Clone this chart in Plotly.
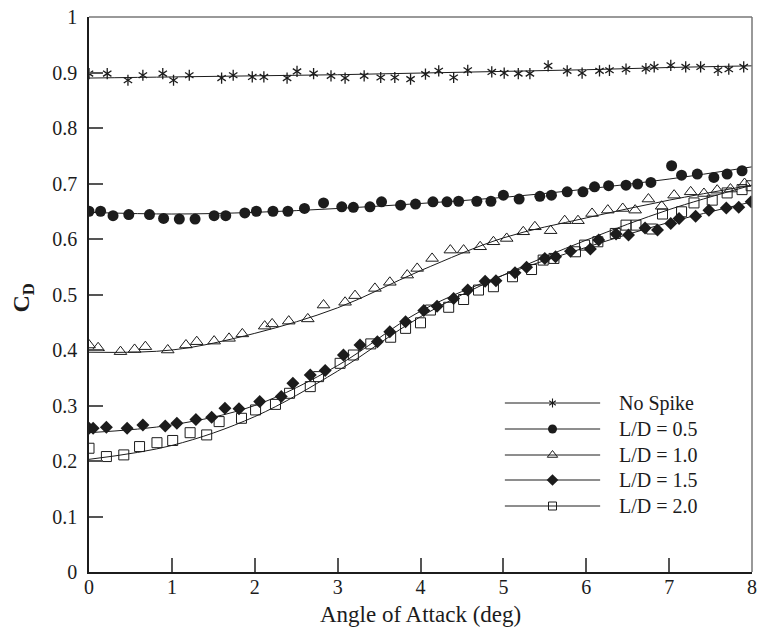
import plotly.graph_objects as go

# ---------------- data ----------------
ns_x = [0.00, 0.22, 0.47, 0.65, 0.89, 1.02, 1.21, 1.60, 1.74, 1.97, 2.11, 2.39, 2.51, 2.71,
        2.92, 3.09, 3.32, 3.52, 3.69, 3.88, 4.06, 4.22, 4.40, 4.57, 4.86, 5.01, 5.18, 5.32,
        5.54, 5.77, 5.95, 6.16, 6.28, 6.48, 6.72, 6.82, 7.02, 7.20, 7.38, 7.59, 7.72, 7.90]
ns_y = [0.898, 0.898, 0.886, 0.895, 0.898, 0.886, 0.895, 0.890, 0.895, 0.892, 0.892, 0.890, 0.902, 0.898,
        0.894, 0.890, 0.894, 0.891, 0.891, 0.888, 0.897, 0.903, 0.891, 0.904, 0.901, 0.899, 0.898, 0.898,
        0.912, 0.903, 0.899, 0.903, 0.904, 0.906, 0.907, 0.910, 0.913, 0.910, 0.910, 0.904, 0.906, 0.910]

ld05_x = [0.00, 0.14, 0.29, 0.48, 0.73, 0.90, 1.09, 1.28, 1.51, 1.65, 1.88, 2.02, 2.22, 2.40, 2.60,
          2.83, 3.05, 3.19, 3.39, 3.53, 3.76, 3.94, 4.15, 4.32, 4.46, 4.68, 4.85, 5.00, 5.19, 5.44,
          5.58, 5.77, 5.96, 6.10, 6.27, 6.48, 6.62, 6.78, 7.03, 7.15, 7.34, 7.54, 7.70, 7.88]
ld05_y = [0.650, 0.650, 0.642, 0.644, 0.644, 0.637, 0.636, 0.636, 0.642, 0.642, 0.647, 0.650, 0.650, 0.650, 0.655,
          0.665, 0.658, 0.657, 0.658, 0.667, 0.661, 0.663, 0.667, 0.667, 0.668, 0.668, 0.668, 0.679, 0.672, 0.677,
          0.679, 0.685, 0.685, 0.694, 0.696, 0.697, 0.699, 0.702, 0.732, 0.715, 0.717, 0.711, 0.717, 0.723]

ld10_x = [0.00, 0.11, 0.38, 0.55, 0.68, 0.95, 1.17, 1.30, 1.51, 1.69, 1.85, 2.12, 2.21, 2.41, 2.64,
          2.83, 3.09, 3.21, 3.45, 3.63, 3.84, 3.96, 4.14, 4.36, 4.52, 4.72, 4.88, 5.04, 5.24, 5.38,
          5.57, 5.74, 5.90, 6.07, 6.26, 6.44, 6.59, 6.75, 6.91, 7.06, 7.26, 7.42, 7.58, 7.74, 7.91]
ld10_y = [0.409, 0.404, 0.397, 0.401, 0.406, 0.400, 0.409, 0.415, 0.416, 0.421, 0.429, 0.443, 0.447, 0.452, 0.456,
          0.481, 0.486, 0.498, 0.511, 0.522, 0.535, 0.547, 0.565, 0.580, 0.580, 0.586, 0.595, 0.601, 0.613, 0.622,
          0.615, 0.633, 0.633, 0.646, 0.652, 0.655, 0.652, 0.672, 0.659, 0.679, 0.685, 0.682, 0.688, 0.690, 0.700]

ld15_x = [0.00, 0.05, 0.21, 0.46, 0.65, 0.92, 1.06, 1.29, 1.48, 1.64, 1.81, 2.06, 2.32, 2.46, 2.67,
          2.85, 3.07, 3.27, 3.48, 3.63, 3.82, 4.04, 4.20, 4.40, 4.57, 4.78, 4.91, 5.14, 5.28, 5.50,
          5.63, 5.81, 6.05, 6.15, 6.36, 6.51, 6.71, 6.86, 7.02, 7.12, 7.32, 7.48, 7.69, 7.84, 7.99]
ld15_y = [0.259, 0.259, 0.261, 0.259, 0.265, 0.263, 0.268, 0.275, 0.279, 0.295, 0.294, 0.307, 0.316, 0.340, 0.355,
          0.363, 0.391, 0.409, 0.415, 0.433, 0.451, 0.471, 0.479, 0.493, 0.508, 0.524, 0.525, 0.539, 0.549, 0.565,
          0.568, 0.578, 0.582, 0.598, 0.609, 0.607, 0.620, 0.616, 0.628, 0.637, 0.641, 0.652, 0.656, 0.657, 0.667]

ld20_x = [0.00, 0.21, 0.42, 0.61, 0.82, 1.01, 1.22, 1.42, 1.57, 1.84, 2.01, 2.25, 2.42, 2.67, 2.77,
          3.03, 3.19, 3.40, 3.64, 3.82, 4.00, 4.12, 4.34, 4.52, 4.70, 4.88, 5.11, 5.34, 5.48, 5.61,
          5.87, 5.98, 6.14, 6.35, 6.48, 6.60, 6.79, 6.92, 7.15, 7.30, 7.52, 7.70, 7.88, 7.99]
ld20_y = [0.223, 0.208, 0.211, 0.226, 0.233, 0.237, 0.251, 0.247, 0.271, 0.277, 0.292, 0.302, 0.322, 0.334, 0.352,
          0.376, 0.391, 0.411, 0.423, 0.439, 0.449, 0.472, 0.477, 0.491, 0.508, 0.514, 0.532, 0.545, 0.562, 0.565,
          0.577, 0.589, 0.595, 0.610, 0.625, 0.625, 0.618, 0.645, 0.649, 0.665, 0.670, 0.683, 0.689, 0.696]

# curve-fit lines at integer angles
fit_x = [0, 1, 2, 3, 4, 5, 6, 7, 8]
fit_ns = [0.890, 0.892, 0.894, 0.896, 0.899, 0.902, 0.905, 0.909, 0.912]
fit_05 = [0.648, 0.645, 0.648, 0.655, 0.664, 0.675, 0.690, 0.708, 0.730]
fit_10 = [0.396, 0.400, 0.430, 0.476, 0.543, 0.602, 0.638, 0.670, 0.697]
fit_15 = [0.251, 0.265, 0.300, 0.372, 0.470, 0.535, 0.585, 0.630, 0.667]
fit_20 = [0.203, 0.228, 0.280, 0.362, 0.460, 0.535, 0.598, 0.653, 0.697]

legend_names = ["No Spike", "L/D = 0.5", "L/D = 1.0", "L/D = 1.5", "L/D = 2.0"]

x_ticks = [0, 1, 2, 3, 4, 5, 6, 7, 8]
y_ticks = [0, 0.1, 0.2, 0.3, 0.4, 0.5, 0.6, 0.7, 0.8, 0.9, 1]

# ---------------- styling ----------------
INK = "#1c1c1c"
FONT = "Liberation Serif, Times New Roman, serif"

fig = go.Figure()

fits = [fit_ns, fit_05, fit_10, fit_15, fit_20]
for f in fits:
    fig.add_trace(go.Scatter(x=fit_x, y=f, mode="lines", line=dict(color=INK, width=1, shape="spline", smoothing=1.0),
                             showlegend=False, hoverinfo="skip"))

# markers
ast_line = dict(color=INK, width=1.3)
fig.add_trace(go.Scatter(x=ns_x, y=ns_y, mode="markers", name="No Spike", showlegend=False,
                         marker=dict(symbol="y-up-open", size=7, color=INK, line=ast_line)))
fig.add_trace(go.Scatter(x=ns_x, y=ns_y, mode="markers", showlegend=False,
                         marker=dict(symbol="y-down-open", size=7, color=INK, line=ast_line)))
fig.add_trace(go.Scatter(x=ld05_x, y=ld05_y, mode="markers", name="L/D = 0.5", showlegend=False,
                         marker=dict(symbol="circle", size=11, color=INK, line=dict(width=0))))
fig.add_trace(go.Scatter(x=ld10_x, y=ld10_y, mode="markers", name="L/D = 1.0", showlegend=False,
                         marker=dict(symbol="triangle-up-open", size=11, color=INK, line=dict(color=INK, width=1))))
fig.add_trace(go.Scatter(x=ld15_x, y=ld15_y, mode="markers", name="L/D = 1.5", showlegend=False,
                         marker=dict(symbol="diamond", size=10, color=INK, line=dict(width=0))))
fig.add_trace(go.Scatter(x=ld20_x, y=ld20_y, mode="markers", name="L/D = 2.0", showlegend=False,
                         marker=dict(symbol="square-open", size=10, color=INK, line=dict(color=INK, width=1))))

# ---------------- manual legend on a pixel-like overlay axis ----------------
leg_y = [403, 429, 455, 480, 506]
leg_x0, leg_xm, leg_x1, leg_tx = 508, 556, 604, 621
leg_syms = [None, ("circle", 9, 0), ("triangle-up-open", 9, 1), ("diamond", 9, 0), ("square-open", 8, 1)]
for i, (yy, name) in enumerate(zip(leg_y, legend_names)):
    fig.add_trace(go.Scatter(x=[leg_x0, leg_x1], y=[yy, yy], xaxis="x2", yaxis="y2", mode="lines",
                             line=dict(color=INK, width=1), showlegend=False, hoverinfo="skip"))
    if leg_syms[i] is None:
        for s in ("y-up-open", "y-down-open"):
            fig.add_trace(go.Scatter(x=[leg_xm], y=[yy], xaxis="x2", yaxis="y2", mode="markers",
                                     marker=dict(symbol=s, size=5.5, color=INK, line=dict(color=INK, width=1.1)),
                                     showlegend=False, hoverinfo="skip"))
    else:
        sym, sz, lw = leg_syms[i]
        fig.add_trace(go.Scatter(x=[leg_xm], y=[yy], xaxis="x2", yaxis="y2", mode="markers",
                                 marker=dict(symbol=sym, size=sz, color=INK, line=dict(color=INK, width=lw)),
                                 showlegend=False, hoverinfo="skip"))
    fig.add_annotation(x=leg_tx, y=yy, xref="x2", yref="y2", text=name, showarrow=False,
                       xanchor="left", yanchor="middle", font=dict(family=FONT, size=20, color=INK))

L, R, T, B = 89, 5, 17, 56
W, H = 762, 628

fig.update_layout(
    width=W, height=H,
    margin=dict(l=L, r=R, t=T, b=B),
    paper_bgcolor="white", plot_bgcolor="white",
    font=dict(family=FONT, size=20, color=INK),
    showlegend=False,
    xaxis=dict(range=[0, 8], tickvals=x_ticks, ticks="inside", ticklen=14, tickwidth=1.5, tickcolor="#555",
               showline=True, linecolor=INK, linewidth=1.5, showgrid=False, zeroline=False,
               tickfont=dict(family=FONT, size=20, color=INK), ticklabelstandoff=-4, fixedrange=True),
    yaxis=dict(range=[0, 1], tickvals=y_ticks, ticks="inside", ticklen=14, tickwidth=1.5, tickcolor="#555",
               showline=True, linecolor=INK, linewidth=1.5, showgrid=False, zeroline=False,
               tickfont=dict(family=FONT, size=20, color=INK), ticklabelstandoff=6, fixedrange=True),
    xaxis2=dict(range=[L, W - R], overlaying="x", visible=False, fixedrange=True),
    yaxis2=dict(range=[H - B, T], overlaying="y", visible=False, fixedrange=True),
)

# gray top/right frame
fig.add_shape(type="line", xref="paper", yref="paper", x0=0, x1=1, y0=1, y1=1, line=dict(color="#777", width=1.5))
fig.add_shape(type="line", xref="paper", yref="paper", x0=1, x1=1, y0=0, y1=1, line=dict(color="#777", width=1.5))

# axis titles
fig.add_annotation(x=0.5, y=(572 - 614) / 555, xref="paper", yref="paper", text="Angle of Attack (deg)",
                   showarrow=False, xanchor="center", yanchor="middle", font=dict(family=FONT, size=23, color=INK))
fig.add_annotation(x=(22 - 89) / 668, y=(572 - 298) / 555, xref="paper", yref="paper", text="<b>C<sub>D</sub></b>",
                   textangle=-90, showarrow=False, xanchor="center", yanchor="middle",
                   font=dict(family=FONT, size=24, color=INK))

fig.write_html("out.html")
